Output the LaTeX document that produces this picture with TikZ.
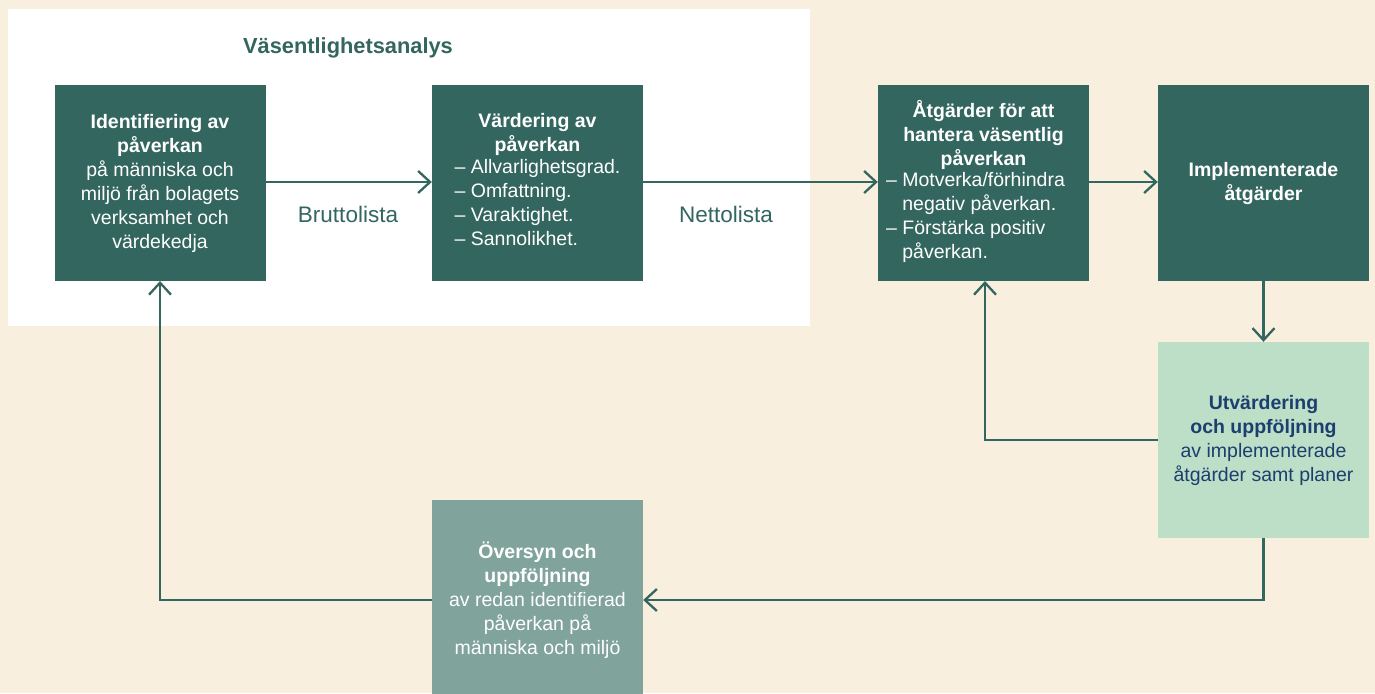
\documentclass[tikz,border=0pt]{standalone}
\usepackage{fontspec}
\setmainfont{Liberation Sans}
\usetikzlibrary{arrows.meta}
\definecolor{cream}{HTML}{F9EFDF}
\definecolor{dgreen}{HTML}{33665F}
\definecolor{lgreen}{HTML}{BDDEC7}
\definecolor{ggreen}{HTML}{80A39B}
\definecolor{dblue}{HTML}{1B3F6E}
\begin{document}
\begin{tikzpicture}[x=1pt,y=-1pt,
  every node/.style={font=\fontsize{19.5}{24}\selectfont},
  boxbase/.style={rectangle, minimum width=211pt, minimum height=196pt, inner sep=0pt, align=center},
  darkbox/.style={boxbase, fill=dgreen, text=white},
  flow/.style={draw=dgreen, line width=2.3pt, -{Straight Barb[length=12pt,width=22pt,line width=2.3pt]}},
  lbl/.style={text=dgreen, font=\fontsize{22.5}{26}\selectfont}
]
\useasboundingbox (0,0) rectangle (1375,693);
\fill[cream] (0,0) rectangle (1375,693);
\fill[white] (8,9) rectangle (810,326);
\node[text=dgreen, font=\fontsize{21.8}{26}\selectfont\bfseries] (title) at (348,48) {Väsentlighetsanalys};

\node[darkbox] (b1) at (160,183) {\textbf{Identifiering av}\\\textbf{påverkan}\\på människa och\\miljö från bolagets\\verksamhet och\\värdekedja};

\node[darkbox] (b2) at (537.5,183) {\textbf{Värdering av}\\\textbf{påverkan}\\
\begin{tabular}{@{}l@{}}– Allvarlighetsgrad.\\– Omfattning.\\– Varaktighet.\\– Sannolikhet.\end{tabular}};

\node[darkbox] (b3) at (983.5,183) {\textbf{Åtgärder för att}\\\textbf{hantera väsentlig}\\\textbf{påverkan}\\
\hspace*{-16pt}\begin{tabular}{@{}l@{}}– Motverka/förhindra\\\phantom{– }negativ påverkan.\\– Förstärka positiv\\\phantom{– }påverkan.\end{tabular}};

\node[darkbox] (b4) at (1263.5,183) {\textbf{Implementerade}\\\textbf{åtgärder}};

\node[boxbase, fill=lgreen, text=dblue] (b5) at (1263.5,440) {\textbf{Utvärdering}\\\textbf{och uppföljning}\\av implementerade\\åtgärder samt planer};

\node[boxbase, fill=ggreen, text=white, minimum height=200pt] (b6) at (537.5,600) {\textbf{Översyn och}\\\textbf{uppföljning}\\av redan identifierad\\påverkan på\\människa och miljö};

\coordinate (b1s) at (160,281);
\coordinate (b3s) at (985,281);
\draw[flow] (b1.east |- 0,182) -- (b2.west |- 0,182);
\draw[flow] (b2.east |- 0,182) -- (b3.west |- 0,182);
\draw[flow] (b3.east |- 0,182) -- (b4.west |- 0,182);
\draw[flow] (b4.south) -- (b5.north);
\draw[flow] (b5.west) -| (b3s);
\draw[flow] (b5.south) |- (b6.east);
\draw[flow] (b6.west) -| (b1s);

\node[lbl] (brutto) at (348,214) {Bruttolista};
\node[lbl] (netto) at (726,214) {Nettolista};
\end{tikzpicture}
\end{document}
